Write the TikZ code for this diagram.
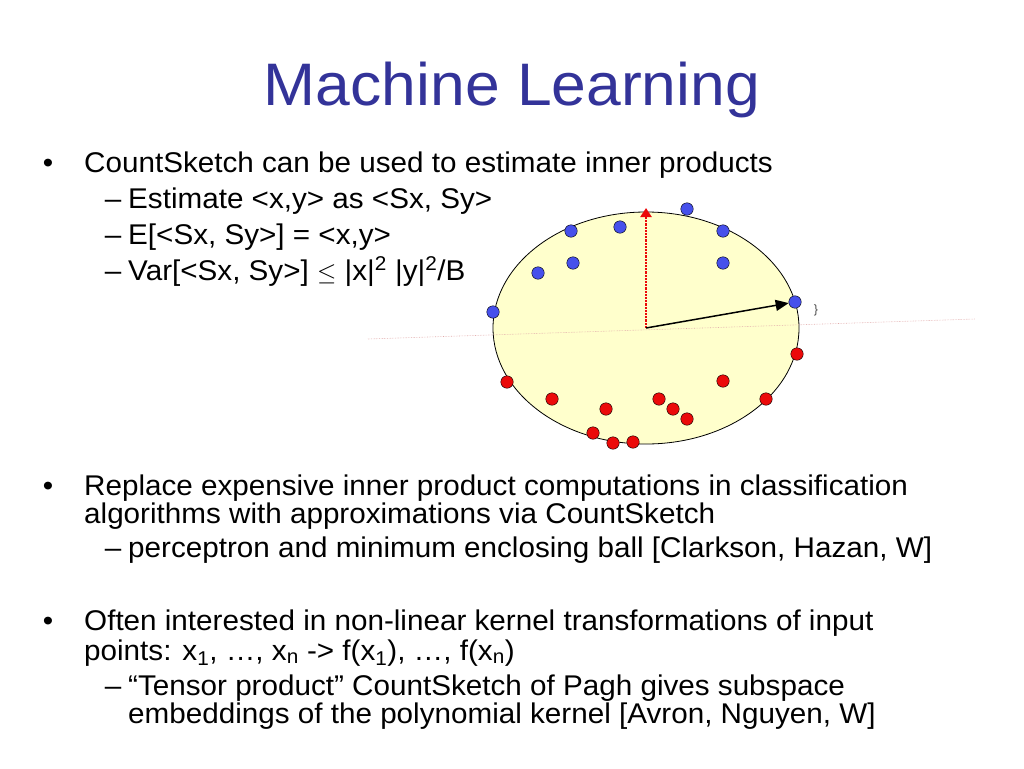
\documentclass[tikz,border=0pt]{standalone}
\usepackage{fontspec}
\setmainfont{Liberation Sans}[FakeStretch = 1.04]
\usepackage{amsmath}
\usepackage{amssymb}
\usepackage{xcolor}
\usetikzlibrary{arrows.meta}
\definecolor{slideblue}{RGB}{51, 51, 153}
\definecolor{ballyellow}{RGB}{255, 255, 204}
\definecolor{dotblue}{RGB}{70, 80, 235}
\definecolor{dotred}{RGB}{235, 10, 10}
\definecolor{palered}{RGB}{225, 170, 170}

\tikzset{
	line/.style = {anchor = base west, inner sep = 0pt, font = \fontsize{28.5}{32}\selectfont},
	bulletmark/.style = {anchor = base, inner sep = 0pt, font = \fontsize{28.5}{32}\selectfont},
	bluedot/.style = {circle, draw, thin, fill = dotblue, inner sep = 0pt, minimum size = 12.5pt},
	reddot/.style = {circle, draw, thin, fill = dotred, inner sep = 0pt, minimum size = 12.5pt}
}

\begin{document}
\begin{tikzpicture}[x = 1pt, y = -1pt]
	\useasboundingbox (0,0) rectangle (1024,768);
	\node (title) at (512,105) [anchor = base, inner sep = 0pt, text = slideblue, font = \fontsize{60}{70}\selectfont] {Machine Learning};
	% first bullet
	\node (m1) at (48,172) [bulletmark] {•};
	\node (count) at (84,172) [line] {CountSketch can be used to estimate inner products};
	\node (d1) at (113,208) [bulletmark] {–};
	\node (est) at (128,208) [line] {Estimate <x,y> as <Sx, Sy>};
	\node (d2) at (113,244) [bulletmark] {–};
	\node (expect) at (128,244) [line] {E[<Sx, Sy>] = <x,y>};
	\node (d3) at (113,280) [bulletmark] {–};
	\node (var) at (128,280) [line] {Var[<Sx, Sy>] $\leq$ |x|\textsuperscript{2} |y|\textsuperscript{2}/B};
	% second bullet
	\node (m2) at (48,495) [bulletmark] {•};
	\node (replace) at (84,495) [line] {Replace expensive inner product computations in classification};
	\node (algo) at (84,523) [line] {algorithms with approximations via CountSketch};
	\node (d4) at (113,557) [bulletmark] {–};
	\node (percep) at (128,557) [line] {perceptron and minimum enclosing ball [Clarkson, Hazan, W]};
	% third bullet
	\node (m3) at (48,630) [bulletmark] {•};
	\node (often) at (84,630) [line] {Often interested in non-linear kernel transformations of input};
	\node (points) at (84,660) [line] {points: x\textsubscript{1}, …, x\textsubscript{n} -> f(x\textsubscript{1}), …, f(x\textsubscript{n})};
	\node (d5) at (113,695) [bulletmark] {–};
	\node (tensor) at (128,695) [line] {“Tensor product” CountSketch of Pagh gives subspace};
	\node (embed) at (128,723) [line] {embeddings of the polynomial kernel [Avron, Nguyen, W]};
	% the ball
	\coordinate (o) at (646,328);
	\coordinate (hl) at (368,339);
	\coordinate (hr) at (975,319);
	\coordinate (top) at (646,208);
	\draw [fill = ballyellow, line width = 0.8pt] (o) ellipse [x radius = 153, y radius = 116];
	\draw [palered, densely dotted, line width = 0.6pt] (hl) -- (hr);
	\node (b1) at (687,209) [bluedot] {};
	\node (b2) at (620,227) [bluedot] {};
	\node (b3) at (571,231) [bluedot] {};
	\node (b4) at (723,231) [bluedot] {};
	\node (b5) at (573,263) [bluedot] {};
	\node (b6) at (538,273) [bluedot] {};
	\node (b7) at (723,263) [bluedot] {};
	\node (b8) at (493,312) [bluedot] {};
	\node (b9) at (795,302) [bluedot] {};
	\node (r1) at (797,354) [reddot] {};
	\node (r2) at (507,382) [reddot] {};
	\node (r3) at (723,381) [reddot] {};
	\node (r4) at (552,399) [reddot] {};
	\node (r5) at (606,409) [reddot] {};
	\node (r6) at (659,399) [reddot] {};
	\node (r7) at (673,409) [reddot] {};
	\node (r8) at (687,419) [reddot] {};
	\node (r9) at (766,399) [reddot] {};
	\node (r10) at (593,433) [reddot] {};
	\node (r11) at (613,443) [reddot] {};
	\node (r12) at (633,442) [reddot] {};
	\draw [dotred, densely dotted, line width = 2.2pt, -{Triangle[length = 9pt, width = 11pt]}] (o) -- (top);
	\draw [line width = 1.5pt, -{Triangle[length = 13pt, width = 11pt]}] (o) -- (b9);
	\node (brace) at (816,310) [text = black!70, font = \fontsize{12}{14}\selectfont] {\}};
\end{tikzpicture}
\end{document}
